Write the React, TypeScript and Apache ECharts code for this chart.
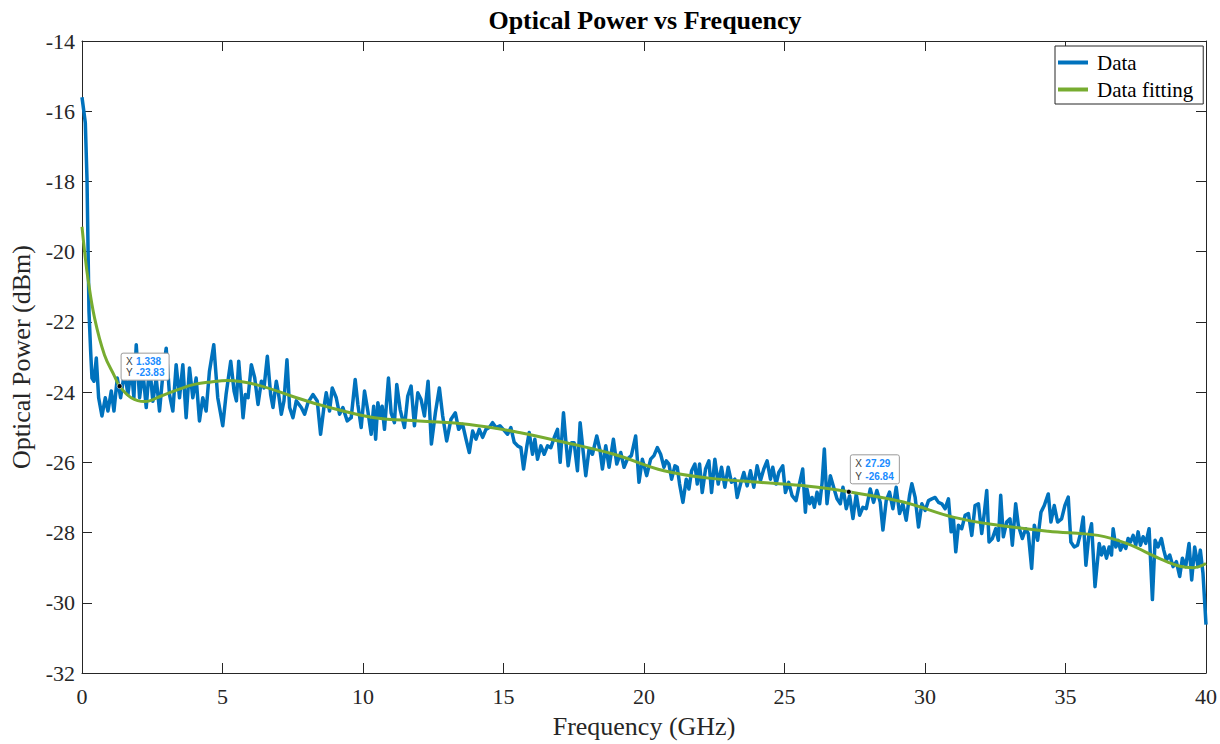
import React, { useEffect, useRef } from "react";
import * as echarts from "echarts";

const chartTitle = "Optical Power vs Frequency";
const xAxisName = "Frequency (GHz)";
const yAxisName = "Optical Power (dBm)";
const seriesNames = ["Data", "Data fitting"];

const dataFreq = [
  0, 0.118, 0.178, 0.213, 0.249, 0.308, 0.355, 0.426, 0.509, 0.592, 0.71, 0.829, 0.924, 1.042, 1.137, 1.255, 1.374, 1.516, 1.634, 1.753,
  1.847, 1.93, 2.049, 2.167, 2.286, 2.404, 2.522, 2.641, 2.759, 2.877, 2.996, 3.114, 3.233, 3.351, 3.47, 3.588, 3.706, 3.825, 3.943, 4.062,
  4.18, 4.298, 4.417, 4.535, 4.689, 4.831, 5.009, 5.127,
  5.293, 5.412, 5.495, 5.577, 5.672, 5.731, 5.814, 5.909, 6.027, 6.146, 6.264, 6.383, 6.477, 6.596, 6.714, 6.797, 6.915, 6.998, 7.093, 7.188,
  7.294, 7.389, 7.507, 7.626, 7.804, 7.922, 8.041, 8.218, 8.372, 8.49, 8.609, 8.692, 8.81, 8.905, 9.047, 9.165, 9.284, 9.438, 9.58, 9.722,
  9.817, 9.935, 10.054, 10.172, 10.291,
  10.38, 10.45, 10.53, 10.6, 10.681, 10.764, 10.906, 11.001, 11.119, 11.202, 11.321, 11.475, 11.593, 11.712, 11.83, 11.949, 12.067, 12.186,
  12.316, 12.434, 12.576, 12.718, 12.836, 12.978, 13.132, 13.286, 13.404, 13.546, 13.665, 13.783, 13.902, 14.02, 14.138, 14.257, 14.375,
  14.494, 14.612, 14.731, 14.873, 14.991, 15.145, 15.263, 15.382, 15.501,
  15.619, 15.714, 15.832, 15.915, 16.033, 16.116, 16.211, 16.33, 16.448, 16.566, 16.685, 16.803, 16.922, 17.017, 17.135, 17.218, 17.301,
  17.419, 17.514, 17.632, 17.727, 17.845, 17.928, 18.046, 18.165, 18.319, 18.437, 18.52, 18.639, 18.757, 18.911, 19.03, 19.172, 19.29,
  19.408, 19.55, 19.704, 19.822, 19.941, 20.095, 20.237, 20.355, 20.474, 20.592,
  20.711, 20.794, 20.888, 20.983, 21.101, 21.184, 21.267, 21.386, 21.504, 21.599, 21.694, 21.812, 21.895, 21.978, 22.072, 22.191, 22.309,
  22.404, 22.522, 22.641, 22.759, 22.878, 22.996, 23.114, 23.233, 23.316, 23.434, 23.553, 23.671, 23.789, 23.908, 24.026, 24.145, 24.263,
  24.381, 24.5, 24.583, 24.701, 24.796, 24.938, 25.033, 25.151, 25.269, 25.411, 25.53, 25.648, 25.743,
  25.802, 25.897, 25.98, 26.063, 26.157, 26.252, 26.335, 26.418, 26.512, 26.631, 26.749, 26.868, 26.986, 27.081, 27.199, 27.318, 27.436,
  27.554, 27.673, 27.791, 27.91, 28.052, 28.17, 28.288, 28.407, 28.502, 28.62, 28.738, 28.857, 28.975, 29.094, 29.212, 29.331, 29.449,
  29.532, 29.65, 29.769, 29.887, 30.006, 30.124, 30.243, 30.361, 30.479, 30.598, 30.716, 30.835, 30.93,
  31.012, 31.095, 31.19, 31.308, 31.427, 31.545, 31.664, 31.782, 31.901, 32.019, 32.114, 32.197, 32.279, 32.398, 32.516, 32.611, 32.694,
  32.788, 32.907, 33.025, 33.108, 33.227, 33.321, 33.464, 33.582, 33.677, 33.795, 33.89, 34.008, 34.127, 34.245, 34.387, 34.482, 34.6,
  34.719, 34.861, 34.979, 35.098, 35.192, 35.311, 35.429, 35.548, 35.631, 35.726, 35.832, 35.927,
  36.05, 36.199, 36.281, 36.364, 36.459, 36.554, 36.637, 36.696, 36.791, 36.874, 36.956, 37.051, 37.146, 37.229, 37.312, 37.407, 37.501,
  37.584, 37.667, 37.762, 37.857, 37.975, 38.093, 38.188, 38.295, 38.413, 38.496, 38.591, 38.709, 38.828, 38.946, 39.064, 39.159, 39.278,
  39.396, 39.491, 39.597, 39.716, 39.799, 39.893, 40,
];

const dataPower = [
  -15.6, -16.33, -17.93, -19.82, -21.71, -22.84, -23.6, -23.69, -23.03, -24.16, -24.68, -24.16, -24.54, -23.97, -24.54, -23.6, -24.16, -23.41, -24.07, -23.31,
  -24.16, -22.65, -24.16, -23.41, -24.44, -23.22, -24.26, -23.6, -24.54, -23.5, -22.75, -24.07, -24.54, -23.22, -24.16, -23.22, -24.73, -23.31, -24.16, -23.6,
  -24.82, -24.16, -24.54, -23.41, -22.65, -24.16, -24.96, -24.07,
  -23.12, -23.97, -24.25, -23.12, -24.07, -24.73, -24.07, -24.16, -23.22, -23.59, -24.35, -23.69, -23.88, -22.98, -24.07, -24.44, -23.69, -24.07, -24.63, -24.25,
  -23.08, -24.44, -24.73, -24.25, -24.44, -24.63, -24.3, -24.07, -24.25, -25.2, -24.44, -24.02, -24.54, -23.88, -24.16, -24.63, -24.44, -24.82, -24.73, -23.64,
  -24.35, -25.01, -23.97, -24.54, -25.2,
  -24.4, -25.34, -24.3, -24.68, -24.4, -25.06, -23.6, -24.59, -24.87, -23.78, -24.49, -25.01, -24.11, -23.83, -24.96, -24.02, -24.21, -24.68,
  -23.69, -25.48, -24.59, -23.88, -24.68, -25.39, -24.77, -24.59, -25.06, -24.92, -25.34, -25.72, -25.11, -25.34, -25.06, -25.29, -25.06,
  -25.01, -24.87, -25.01, -24.96, -25.06, -25.2, -25.01, -25.43, -25.53,
  -25.58, -26.19, -25.53, -25.15, -25.77, -25.34, -25.91, -25.53, -25.77, -25.53, -25.58, -25.3, -25.06, -26.0, -24.59, -25.39, -26.1,
  -25.44, -25.44, -26.24, -24.87, -25.77, -26.38, -25.62, -25.77, -25.25, -25.67, -26.19, -25.53, -26.14, -25.34, -26.05, -25.72, -26.14,
  -25.91, -25.81, -25.25, -26.57, -25.91, -26.38, -25.91, -25.81, -25.58, -25.77,
  -26.14, -25.96, -26.05, -26.48, -26.1, -26.14, -26.62, -27.14, -26.48, -26.76, -26.24, -26.05, -26.62, -26.05, -26.86, -26.19, -25.96,
  -26.86, -25.91, -26.62, -26.14, -26.71, -26.14, -26.57, -26.48, -27.0, -26.62, -26.29, -26.67, -26.24, -26.71, -26.1, -26.52, -26.19,
  -25.96, -26.48, -26.14, -26.62, -26.29, -26.1, -26.86, -26.57, -26.95, -27.09, -26.62, -26.19, -27.42,
  -26.76, -27.18, -27.0, -27.28, -26.85, -27.18, -26.61, -25.62, -27.18, -26.38, -26.71, -27.04, -27.18, -26.71, -27.32, -26.95, -27.6,
  -26.9, -27.51, -27.28, -27.32, -26.76, -27.14, -26.8, -27.14, -27.93, -27.09, -26.85, -27.32, -26.71, -27.46, -27.18, -27.65, -26.95,
  -26.61, -27.0, -27.84, -27.18, -27.37, -27.09, -27.04, -27.0, -27.14, -27.18, -27.32, -27.04, -27.98,
  -27.61, -28.55, -27.79, -27.89, -27.51, -27.46, -28.08, -27.23, -27.18, -28.03, -27.42, -26.8, -28.27, -28.17, -27.89, -28.22, -26.94,
  -28.12, -27.7, -27.61, -28.36, -27.18, -27.79, -28.17, -27.89, -28.03, -29.02, -27.79, -28.22, -27.42, -27.23, -26.9, -27.7, -27.23,
  -27.7, -27.61, -27.23, -26.99, -28.27, -28.41, -28.36, -27.98, -27.56, -28.93, -28.08, -27.75,
  -29.54, -28.31, -28.64, -28.41, -28.73, -28.41, -28.64, -27.89, -28.41, -28.22, -28.5, -28.31, -28.45, -28.17, -28.27, -28.08, -28.36,
  -27.98, -28.36, -28.12, -28.31, -27.89, -29.91, -28.22, -28.41, -28.17, -28.5, -28.78, -28.64, -28.97, -28.83, -29.25, -28.73, -28.97,
  -28.31, -29.35, -28.41, -28.97, -28.5, -29.16, -30.62,
];

const fitFreq = [
  0, 0.1, 0.21, 0.45, 0.8, 1.16, 1.338, 1.75, 2.23, 2.82, 3.41, 4.0, 4.59, 5.19, 6.26, 7.45, 8.63, 10.41, 12.0, 13.78, 15.56, 17.16,
  18.93, 20.71, 22.31, 24.09, 25.86, 27.29, 29.23, 31.0, 32.6, 34.38, 36.16, 37.17, 38.35, 39.07, 39.54, 40,
];
const fitPower = [
  -19.29, -20.05, -20.76, -21.9, -22.94, -23.55, -23.83, -24.16, -24.27, -24.11, -23.93, -23.78, -23.71, -23.67, -23.8, -24.11, -24.4,
  -24.73, -24.82, -24.92, -25.15, -25.43, -25.77, -26.24, -26.45, -26.57, -26.68, -26.84, -27.13, -27.56, -27.79, -27.96, -28.08, -28.31,
  -28.74, -28.96, -29.0, -28.88,
];

const tipFreq = [1.338, 27.29];
const tipPower = [-23.83, -26.84];
const tipXText = ["1.338", "27.29"];
const tipYText = ["-23.83", "-26.84"];

export default function App() {
  const ref = useRef<HTMLDivElement>(null);

  useEffect(() => {
    const el = ref.current;
    if (!el) return;
    const chart = echarts.init(el, null, { renderer: "svg" });
    const font = "'Liberation Serif', 'Times New Roman', serif";
    const tipFont = "'Liberation Sans', Arial, sans-serif";
    const axisColor = "#262626";
    const blue = "#0072BD";
    const green = "#77AC30";

    const baseX = {
      type: "value",
      min: 0,
      max: 40,
      interval: 5,
      axisLine: { show: true, onZero: false, lineStyle: { color: axisColor, width: 1 } },
      axisTick: { show: true, inside: true, length: 10, lineStyle: { color: axisColor, width: 1 } },
      splitLine: { show: false },
    };
    const baseY = {
      type: "value",
      min: -32,
      max: -14,
      interval: 2,
      axisLine: { show: true, onZero: false, lineStyle: { color: axisColor, width: 1 } },
      axisTick: { show: true, inside: true, length: 10, lineStyle: { color: axisColor, width: 1 } },
      splitLine: { show: false },
    };

    chart.setOption({
      animation: false,
      backgroundColor: "#ffffff",
      grid: { left: 82, right: 12, top: 41, bottom: 67, containLabel: false },
      legend: {
        left: 1055,
        top: 46,
        orient: "vertical",
        padding: [6, 10, 4, 3],
        itemGap: 6,
        itemWidth: 30,
        itemHeight: 4,
        icon: "rect",
        borderColor: axisColor,
        borderWidth: 1,
        backgroundColor: "#ffffff",
        textStyle: { fontFamily: font, fontSize: 21, color: "#000000", lineHeight: 21, padding: [0, 0, 0, 4] },
        data: seriesNames,
      },
      xAxis: [
        {
          ...baseX,
          position: "bottom",
          axisLabel: { color: axisColor, fontFamily: font, fontSize: 22, margin: 12 },
          name: xAxisName,
          nameLocation: "middle",
          nameGap: 40,
          nameTextStyle: { fontFamily: font, fontSize: 26, color: axisColor },
        },
        { ...baseX, position: "top", axisLabel: { show: false } },
      ],
      yAxis: [
        {
          ...baseY,
          position: "left",
          axisLabel: { color: axisColor, fontFamily: font, fontSize: 22, margin: 7 },
          name: yAxisName,
          nameLocation: "middle",
          nameGap: 41,
          nameTextStyle: { fontFamily: font, fontSize: 26, color: axisColor },
        },
        { ...baseY, position: "right", axisLabel: { show: false } },
      ],
      series: [
        {
          name: seriesNames[0],
          type: "line",
          xAxisIndex: 0,
          yAxisIndex: 0,
          showSymbol: false,
          symbol: "none",
          data: dataFreq.map((f, i) => [f, dataPower[i]]),
          lineStyle: { color: blue, width: 3.5, join: "round" },
          itemStyle: { color: blue },
          z: 2,
        },
        {
          name: seriesNames[1],
          type: "line",
          xAxisIndex: 0,
          yAxisIndex: 0,
          showSymbol: false,
          symbol: "none",
          smooth: 0.4,
          data: fitFreq.map((f, i) => [f, fitPower[i]]),
          lineStyle: { color: green, width: 3 },
          itemStyle: { color: green },
          z: 3,
        },
      ],
    });

    const tipOffsets = [
      { dx: 1.5, dy: -33, w: 48, h: 27 },
      { dx: 1.5, dy: -37, w: 49, h: 29 },
    ];
    const richStyles = {
      l: { fontFamily: tipFont, fontSize: 10, fill: "#404040", color: "#404040" },
      v: { fontFamily: tipFont, fontSize: 10, fontWeight: "bold", fill: "#1a8cff", color: "#1a8cff" },
    };
    const tipGraphics: any[] = [];
    tipFreq.forEach((f, i) => {
      const p = chart.convertToPixel({ gridIndex: 0 }, [f, tipPower[i]]) as number[];
      const o = tipOffsets[i];
      const lineGap = o.h / 2;
      tipGraphics.push(
        {
          type: "rect",
          z: 100,
          shape: { x: p[0] + o.dx, y: p[1] + o.dy, width: o.w, height: o.h, r: 2 },
          style: { fill: "#ffffff", stroke: "#9a9a9a", lineWidth: 1 },
        },
        {
          type: "text",
          z: 101,
          x: p[0] + o.dx + 5,
          y: p[1] + o.dy + lineGap / 2 + 1.5,
          style: {
            text: "{l|X} {v|" + tipXText[i] + "}",
            verticalAlign: "middle",
            textVerticalAlign: "middle",
            rich: richStyles,
          },
        },
        {
          type: "text",
          z: 101,
          x: p[0] + o.dx + 5,
          y: p[1] + o.dy + lineGap * 1.5 - 0.5,
          style: {
            text: "{l|Y} {v|" + tipYText[i] + "}",
            verticalAlign: "middle",
            textVerticalAlign: "middle",
            rich: richStyles,
          },
        },
        {
          type: "circle",
          z: 102,
          shape: { cx: p[0], cy: p[1], r: 2.5 },
          style: { fill: "#000000", stroke: "#ffffff", lineWidth: 0.6 },
        }
      );
    });

    chart.setOption({
      graphic: [
        {
          type: "text",
          x: 645,
          y: 20,
          z: 100,
          style: {
            text: chartTitle,
            fontFamily: font,
            fontSize: 26,
            fontWeight: "bold",
            fill: "#000000",
            align: "center",
            verticalAlign: "middle",
            textAlign: "center",
            textVerticalAlign: "middle",
          },
        },
        ...tipGraphics,
      ],
    });

    return () => {
      chart.dispose();
    };
  }, []);

  return (
    <div
      ref={ref}
      style={{ position: "fixed", left: 0, top: 0, width: 1220, height: 744, background: "#ffffff" }}
    />
  );
}
